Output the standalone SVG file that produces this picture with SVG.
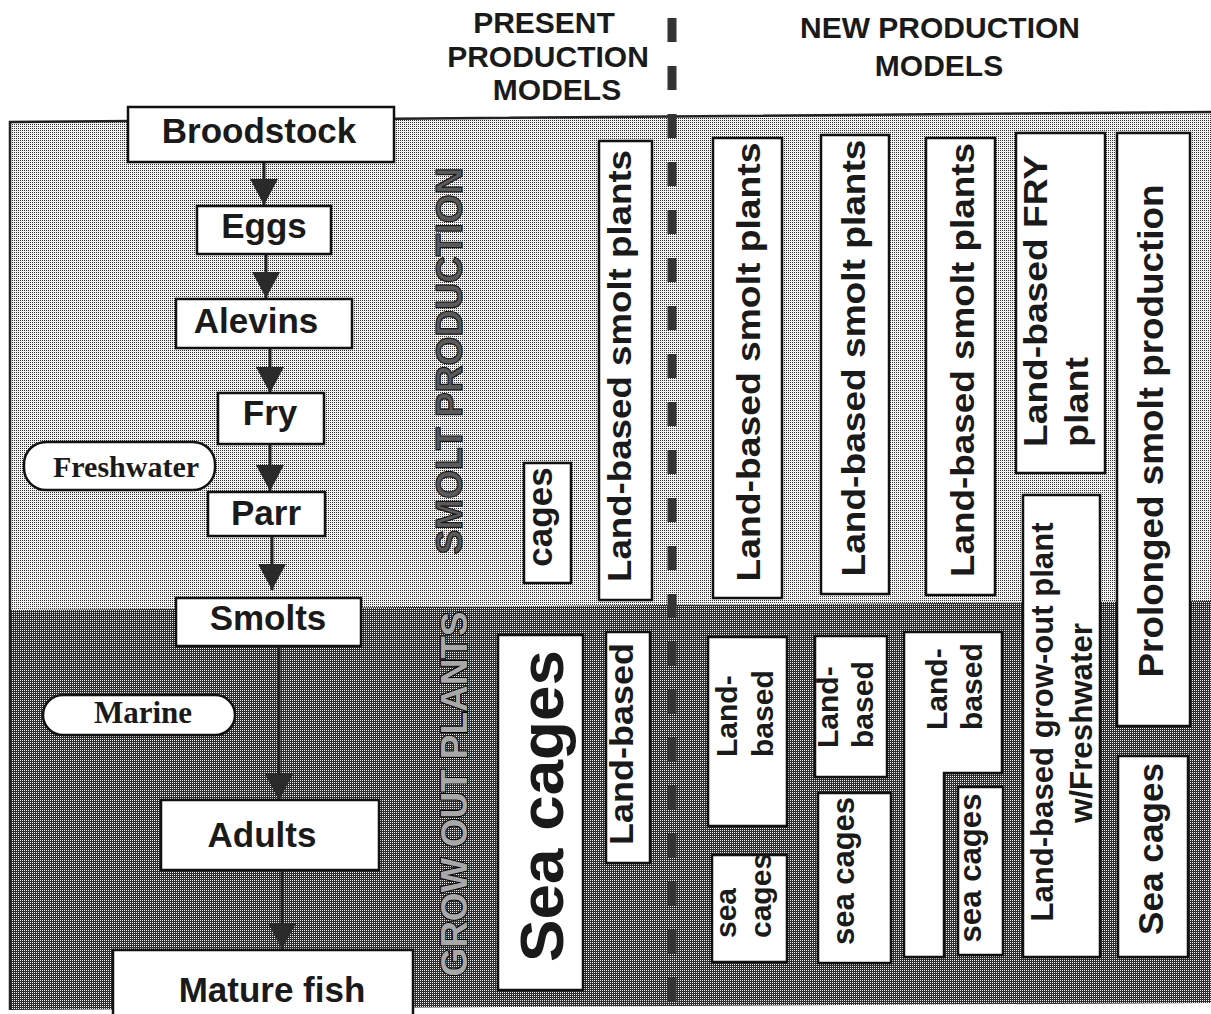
<svg xmlns="http://www.w3.org/2000/svg" width="1211" height="1014" viewBox="0 0 1211 1014">
  <defs>
    <!-- halftone fills for the two production zones -->
    <pattern id="dotLight" width="2" height="2" patternUnits="userSpaceOnUse">
      <rect width="2" height="2" fill="#f2f2f2"/>
      <rect width="1" height="1" fill="#303030"/>
    </pattern>
    <pattern id="dotDark" width="2" height="2" patternUnits="userSpaceOnUse">
      <rect width="2" height="2" fill="#2e2e2e"/>
      <rect width="1" height="1" fill="#f0f0f0"/>
    </pattern>
    <marker id="head" viewBox="0 0 26 28" markerWidth="26" markerHeight="28" refX="26" refY="14" orient="auto" markerUnits="userSpaceOnUse">
      <path d="M0,0 L26,14 L0,28 Z" fill="#2a2a2a"/>
    </marker>
    <style>
      .box { fill: #ffffff; stroke: #111111; stroke-width: 2.5; }
      .pill { fill: #ffffff; stroke: #111111; stroke-width: 2.5; }
      .lbl { font-family: "Liberation Sans", Arial, sans-serif; font-weight: bold; font-size: 35px; fill: #1a1a1a; text-anchor: middle; }
      .serif { font-family: "Liberation Serif", "Times New Roman", serif; font-weight: bold; font-size: 30px; fill: #1a1a1a; text-anchor: middle; }
      .head { font-family: "Liberation Sans", Arial, sans-serif; font-weight: bold; font-size: 30px; fill: #1a1a1a; text-anchor: middle; }
      .vt { font-family: "Liberation Sans", Arial, sans-serif; font-weight: bold; fill: #1a1a1a; text-anchor: middle; }
      .vs { font-family: "Liberation Sans", Arial, sans-serif; font-weight: bold; fill: #1a1a1a; text-anchor: start; }
      .zone { font-family: "Liberation Sans", Arial, sans-serif; font-weight: bold; font-size: 37px; text-anchor: middle; }
      .link { stroke: #222222; stroke-width: 3; fill: none; marker-end: url(#head); }
      .divider { stroke: #333333; stroke-width: 9; stroke-dasharray: 24 24; fill: none; }
    </style>
  </defs>

  <rect width="1211" height="1014" fill="#ffffff"/>

  <!-- zones: smolt production (light) and grow-out (dark) -->
  <g id="zones">
    <polygon points="10,122 1211,112 1211,601 10,610" fill="url(#dotLight)"/>
    <polygon points="10,610 1211,601 1211,1003 10,1010" fill="url(#dotDark)"/>
    <polyline points="1211,112 10,122 10,1010" fill="none" stroke="#222" stroke-width="2.5"/>
  </g>

  <!-- column headings -->
  <g id="headings">
    <text class="head" x="544" y="33">PRESENT</text>
    <text class="head" x="548" y="67">PRODUCTION</text>
    <text class="head" x="557" y="100">MODELS</text>
    <text class="head" x="940" y="38">NEW PRODUCTION</text>
    <text class="head" x="939" y="76">MODELS</text>
  </g>

  <!-- divider between present and new models -->
  <line class="divider" x1="672" y1="18" x2="672" y2="1014"/>

  <!-- zone labels -->
  <g id="zone-labels">
    <text class="zone" fill="#5a5a5a" stroke="#1a1a1a" stroke-width="1.2" transform="translate(462,361) rotate(-90)" textLength="387" lengthAdjust="spacingAndGlyphs">SMOLT PRODUCTION</text>
    <text class="zone" fill="#a8a8a8" stroke="#000000" stroke-width="2" paint-order="stroke" transform="translate(467,794) rotate(-90)" textLength="365" lengthAdjust="spacingAndGlyphs">GROW OUT PLANTS</text>
  </g>

  <!-- life cycle flow -->
  <g id="connectors">
    <line class="link" x1="264" y1="162" x2="264" y2="205"/>
    <line class="link" x1="266" y1="254" x2="266" y2="298"/>
    <line class="link" x1="270" y1="348" x2="270" y2="393"/>
    <line class="link" x1="270" y1="444" x2="270" y2="491"/>
    <line class="link" x1="272" y1="536" x2="272" y2="590"/>
    <line class="link" x1="279" y1="646" x2="279" y2="800"/>
    <line class="link" x1="282" y1="870" x2="282" y2="949"/>
  </g>

  <g id="broodstock">
    <rect class="box" x="128" y="107" width="266" height="55"/>
    <text class="lbl" x="259" y="143">Broodstock</text>
  </g>
  <g id="eggs">
    <rect class="box" x="197" y="206" width="134" height="48"/>
    <text class="lbl" x="264" y="238">Eggs</text>
  </g>
  <g id="alevins">
    <rect class="box" x="176" y="299" width="176" height="49"/>
    <text class="lbl" x="256" y="333">Alevins</text>
  </g>
  <g id="fry">
    <rect class="box" x="218" y="393" width="106" height="51"/>
    <text class="lbl" x="270" y="425">Fry</text>
  </g>
  <g id="freshwater">
    <rect class="pill" x="24" y="442" width="191" height="48" rx="22" ry="22"/>
    <text class="serif" x="126" y="477">Freshwater</text>
  </g>
  <g id="parr">
    <rect class="box" x="208" y="492" width="117" height="44"/>
    <text class="lbl" x="266" y="525">Parr</text>
  </g>
  <g id="smolts">
    <rect class="box" x="176" y="598" width="185" height="48"/>
    <text class="lbl" x="268" y="630">Smolts</text>
  </g>
  <g id="marine">
    <rect class="pill" x="43" y="695" width="192" height="40" rx="20" ry="20"/>
    <text class="serif" x="143" y="723" style="font-size:31px">Marine</text>
  </g>
  <g id="adults">
    <rect class="box" x="161" y="800" width="218" height="70"/>
    <text class="lbl" x="262" y="847">Adults</text>
  </g>
  <g id="mature-fish">
    <rect class="box" x="113" y="950" width="300" height="70"/>
    <text class="lbl" x="272" y="1002">Mature fish</text>
  </g>

  <!-- present production models -->
  <g id="present-smolt-cages">
    <rect class="box" x="524" y="463" width="47" height="120"/>
    <text class="vt" style="font-size:35px" transform="translate(552,517) rotate(-90)">cages</text>
  </g>
  <g id="present-smolt-plants">
    <rect class="box" x="599" y="141" width="53" height="459"/>
    <text class="vt" style="font-size:34px" transform="translate(631,366) rotate(-90)" textLength="432" lengthAdjust="spacingAndGlyphs">Land-based smolt plants</text>
  </g>
  <g id="present-sea-cages">
    <rect class="box" x="498" y="635" width="85" height="355"/>
    <text class="vt" style="font-size:62px" transform="translate(563,806) rotate(-90)" textLength="312" lengthAdjust="spacingAndGlyphs">Sea cages</text>
  </g>
  <g id="present-land-based">
    <rect class="box" x="606" y="632" width="44" height="231"/>
    <text class="vt" style="font-size:34px" transform="translate(633,744) rotate(-90)" textLength="202" lengthAdjust="spacingAndGlyphs">Land-based</text>
  </g>

  <!-- new production models: column 1 -->
  <g id="new1-smolt">
    <rect class="box" x="713" y="138" width="69" height="460"/>
    <text class="vt" style="font-size:34px" transform="translate(760,362) rotate(-90)" textLength="439" lengthAdjust="spacingAndGlyphs">Land-based smolt plants</text>
  </g>
  <g id="new1-land">
    <rect class="box" x="708" y="637" width="79" height="189"/>
    <text class="vs" style="font-size:30px" transform="translate(737,757) rotate(-90)">Land-</text>
    <text class="vs" style="font-size:30px" transform="translate(773,757) rotate(-90)">based</text>
  </g>
  <g id="new1-sea">
    <rect class="box" x="712" y="855" width="75" height="107"/>
    <text class="vs" style="font-size:30px" transform="translate(736,938) rotate(-90)">sea</text>
    <text class="vs" style="font-size:30px" transform="translate(771,938) rotate(-90)">cages</text>
  </g>

  <!-- new production models: column 2 -->
  <g id="new2-smolt">
    <rect class="box" x="821" y="135" width="68" height="459"/>
    <text class="vt" style="font-size:34px" transform="translate(865,358) rotate(-90)" textLength="437" lengthAdjust="spacingAndGlyphs">Land-based smolt plants</text>
  </g>
  <g id="new2-land">
    <rect class="box" x="815" y="636" width="72" height="141"/>
    <text class="vs" style="font-size:30px" transform="translate(838,748) rotate(-90)">Land-</text>
    <text class="vs" style="font-size:30px" transform="translate(873,748) rotate(-90)">based</text>
  </g>
  <g id="new2-sea">
    <rect class="box" x="818" y="793" width="73" height="170"/>
    <text class="vt" style="font-size:31px" transform="translate(854,871) rotate(-90)" textLength="148" lengthAdjust="spacingAndGlyphs">sea cages</text>
  </g>

  <!-- new production models: column 3 -->
  <g id="new3-smolt">
    <rect class="box" x="926" y="138" width="69" height="457"/>
    <text class="vt" style="font-size:34px" transform="translate(974,360) rotate(-90)" textLength="434" lengthAdjust="spacingAndGlyphs">Land-based smolt plants</text>
  </g>
  <g id="new3-land">
    <polygon class="box" points="904,632 1002,632 1002,773 944,773 944,957 904,957"/>
    <text class="vs" style="font-size:30px" transform="translate(947,730) rotate(-90)">Land-</text>
    <text class="vs" style="font-size:30px" transform="translate(982,730) rotate(-90)">based</text>
  </g>
  <g id="new3-sea">
    <rect class="box" x="958" y="787" width="45" height="168"/>
    <text class="vt" style="font-size:31px" transform="translate(981,868) rotate(-90)" textLength="149" lengthAdjust="spacingAndGlyphs">sea cages</text>
  </g>

  <!-- new production models: column 4 -->
  <g id="new4-fry">
    <rect class="box" x="1016" y="133" width="89" height="340"/>
    <text class="vs" style="font-size:34px" transform="translate(1047,447) rotate(-90)" textLength="292" lengthAdjust="spacingAndGlyphs">Land-based FRY</text>
    <text class="vs" style="font-size:34px" transform="translate(1088,447) rotate(-90)" textLength="90" lengthAdjust="spacingAndGlyphs">plant</text>
  </g>
  <g id="new4-growout">
    <rect class="box" x="1023" y="495" width="77" height="462"/>
    <text class="vt" style="font-size:32px" transform="translate(1053,722) rotate(-90)" textLength="399" lengthAdjust="spacingAndGlyphs">Land-based grow-out plant</text>
    <text class="vt" style="font-size:32px" transform="translate(1092,723) rotate(-90)" textLength="200" lengthAdjust="spacingAndGlyphs">w/Freshwater</text>
  </g>

  <!-- new production models: column 5 -->
  <g id="new5-prolonged">
    <rect class="box" x="1117" y="133" width="73" height="593"/>
    <text class="vt" style="font-size:35px" transform="translate(1163,431) rotate(-90)" textLength="493" lengthAdjust="spacingAndGlyphs">Prolonged smolt production</text>
  </g>
  <g id="new5-sea">
    <rect class="box" x="1118" y="756" width="70" height="201"/>
    <text class="vt" style="font-size:35px" transform="translate(1163,849) rotate(-90)" textLength="172" lengthAdjust="spacingAndGlyphs">Sea cages</text>
  </g>
</svg>
